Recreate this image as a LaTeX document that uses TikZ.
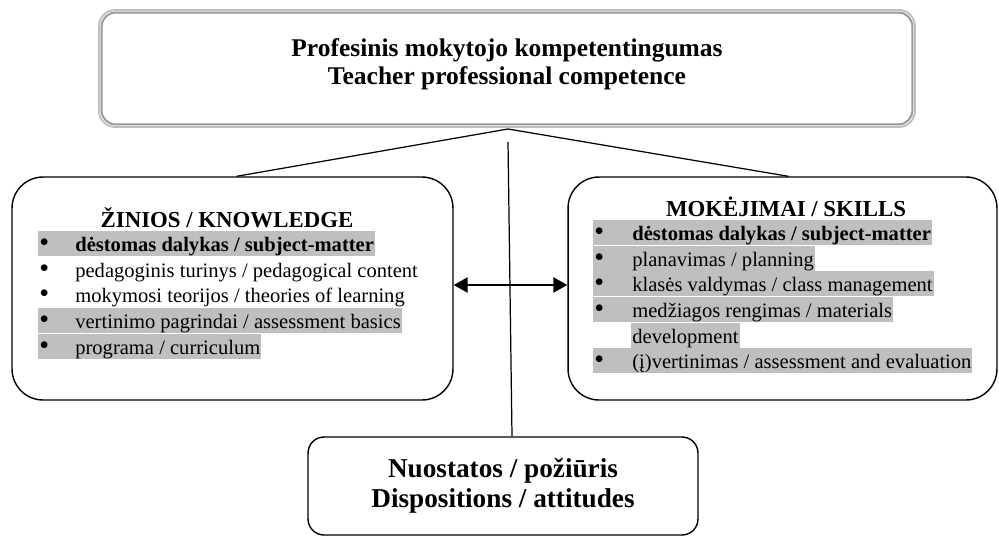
\documentclass[tikz,border=0pt]{standalone}
\usepackage{fontspec}
\setmainfont{Liberation Serif}
\usepackage{xcolor}
\usetikzlibrary{arrows.meta,positioning,calc}

\definecolor{hlgray}{gray}{0.75}
\newcommand{\itemmark}[1]{\makebox[#1][l]{\fontsize{16}{16}\selectfont\textbullet}}

\begin{document}
\begin{tikzpicture}[
    x=0.02cm, y=-0.02cm,
    topbox/.style={rectangle, draw=gray!50, line width=1.1pt, rounded corners=0.32cm, minimum width=16.32cm, minimum height=2.34cm},
    titletext/.style={align=center, font=\fontsize{14.5}{15.9}\selectfont\bfseries},
    sidebox/.style={rectangle, draw, line width=0.8pt, rounded corners=0.62cm, minimum width=8.82cm, minimum height=4.46cm},
    boxhead/.style={anchor=base, font=\fontsize{13}{15}\selectfont\bfseries},
    row/.style={anchor=west, inner xsep=0.02cm, inner ysep=0pt, text height=0.41cm, text depth=0.09cm, font=\fontsize{11.7}{14}\selectfont},
    hlrow/.style={row, fill=hlgray},
    dispbox/.style={rectangle, draw, line width=0.8pt, rounded corners=0.32cm, minimum width=7.8cm, minimum height=1.96cm, align=center, font=\fontsize{15.5}{17}\selectfont\bfseries},
    link/.style={line width=0.7pt},
    arrow/.style={{Triangle[length=0.28cm,width=0.3cm]}-{Triangle[length=0.28cm,width=0.3cm]}, line width=1.4pt},
]
    \useasboundingbox (0,0) rectangle (999,537);

    % top box with double grey border
    \node[topbox] (top) at (507,68.5) {};
    \draw[gray!80, line width=1.1pt, rounded corners=0.28cm] ([shift={(2pt,-2pt)}]top.north west) rectangle ([shift={(-2pt,2pt)}]top.south east);
    \node[titletext] (title) at (507,64) {Profesinis mokytojo kompetentingumas\\Teacher professional competence};

    % knowledge / skills
    \node[sidebox] (knowbox) at (232.5,288.5) {};
    \node[sidebox, minimum width=8.58cm] (skillbox) at (782.5,288.5) {};

    \node[hlrow] (kn1) at (38,243.5) {\itemmark{0.72cm}\textbf{dėstomas dalykas / subject-matter}};
    \node[row, below=0pt of kn1.south west, anchor=north west] (kn2) {\itemmark{0.72cm}pedagoginis turinys / pedagogical content};
    \node[row, below=0pt of kn2.south west, anchor=north west] (kn3) {\itemmark{0.72cm}mokymosi teorijos / theories of learning};
    \node[hlrow, below=0pt of kn3.south west, anchor=north west] (kn4) {\itemmark{0.72cm}vertinimo pagrindai / assessment basics};
    \node[hlrow, below=0pt of kn4.south west, anchor=north west] (kn5) {\itemmark{0.72cm}programa / curriculum};

    \node[hlrow] (sk1) at (593,232.5) {\itemmark{0.76cm}\textbf{dėstomas dalykas / subject-matter}};
    \node[hlrow, below=0pt of sk1.south west, anchor=north west] (sk2) {\itemmark{0.76cm}planavimas / planning};
    \node[hlrow, below=0pt of sk2.south west, anchor=north west] (sk3) {\itemmark{0.76cm}klasės valdymas / class management};
    \node[hlrow, below=0pt of sk3.south west, anchor=north west] (sk4) {\itemmark{0.76cm}medžiagos rengimas / materials};
    \node[hlrow, anchor=north west] (sk4b) at ([xshift=0.76cm]sk4.south west) {development};
    \node[hlrow, anchor=north west] (sk5) at (sk4.west |- sk4b.south) {\itemmark{0.76cm}(į)vertinimas / assessment and evaluation};

    \node[boxhead] (knowhead) at (227,227) {ŽINIOS / KNOWLEDGE};
    \node[boxhead] (skillhead) at (786,216) {MOKĖJIMAI / SKILLS};

    % dispositions
    \node[dispbox] (disp) at (503,486) {Nuostatos / požiūris\\Dispositions / attitudes};

    % connectors
    \coordinate (apex) at (508,129);
    \coordinate (stem) at (508,142);
    \draw[link] ([xshift=0.08cm]knowbox.north) -- (apex) -- ([xshift=0.12cm]skillbox.north);
    \draw[link] (stem) -- ([xshift=0.18cm]disp.north);
    \draw[arrow] ([yshift=0.07cm]knowbox.east) -- ([yshift=0.07cm]skillbox.west);
\end{tikzpicture}
\end{document}
